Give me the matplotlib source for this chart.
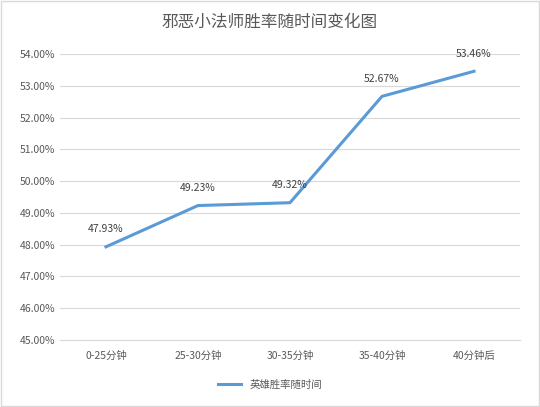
import matplotlib
matplotlib.use("Agg")
import matplotlib.pyplot as plt
from matplotlib.ticker import FuncFormatter, MultipleLocator
from matplotlib.patches import Rectangle

plt.rcParams['font.family'] = ['Noto Sans CJK SC', 'DejaVu Sans']

categories = ["0-25分钟", "25-30分钟", "30-35分钟", "35-40分钟", "40分钟后"]
values = [47.93, 49.23, 49.32, 52.67, 53.46]
series_name = "英雄胜率随时间"

fig = plt.figure(figsize=(5.4, 4.07), dpi=100)
ax = fig.add_axes([0.111, 0.165, 0.852, 0.702])
line_color = "#5B9BD5"
ax.plot(range(len(values)), values, color=line_color, lw=2.2, label=series_name)
for i, v in enumerate(values):
    ax.annotate(f"{v:.2f}%", (i, v), xytext=(0, 9), textcoords="offset points",
                ha="center", va="bottom", fontsize=7.5, color="#404040")
ax.set_ylim(45, 54)
ax.set_xlim(-0.5, len(values) - 0.5)
ax.yaxis.set_major_locator(MultipleLocator(1))
ax.yaxis.set_major_formatter(FuncFormatter(lambda v, p: f"{v:.2f}%"))
ax.set_xticks(range(len(categories)))
ax.set_xticklabels(categories)
ax.tick_params(axis='both', length=0, labelsize=7.5, colors="#595959")
ax.tick_params(axis='x', pad=8)
ax.grid(axis='y', color="#D9D9D9", lw=0.8)
for s in ["top", "right", "left"]:
    ax.spines[s].set_visible(False)
ax.spines["bottom"].set_color("#D9D9D9")
ax.set_axisbelow(True)
fig.suptitle("邪恶小法师胜率随时间变化图", y=0.965, fontsize=12, color="#595959")
fig.legend(loc="lower center", bbox_to_anchor=(0.5, 0.02), frameon=False,
           fontsize=7.5, labelcolor="#595959", handlelength=2.2)
fig.patches.append(Rectangle((0.002, 0.002), 0.996, 0.996, transform=fig.transFigure,
                             fill=False, edgecolor="#D9D9D9", lw=1))
fig.savefig("out.png", dpi=100)
